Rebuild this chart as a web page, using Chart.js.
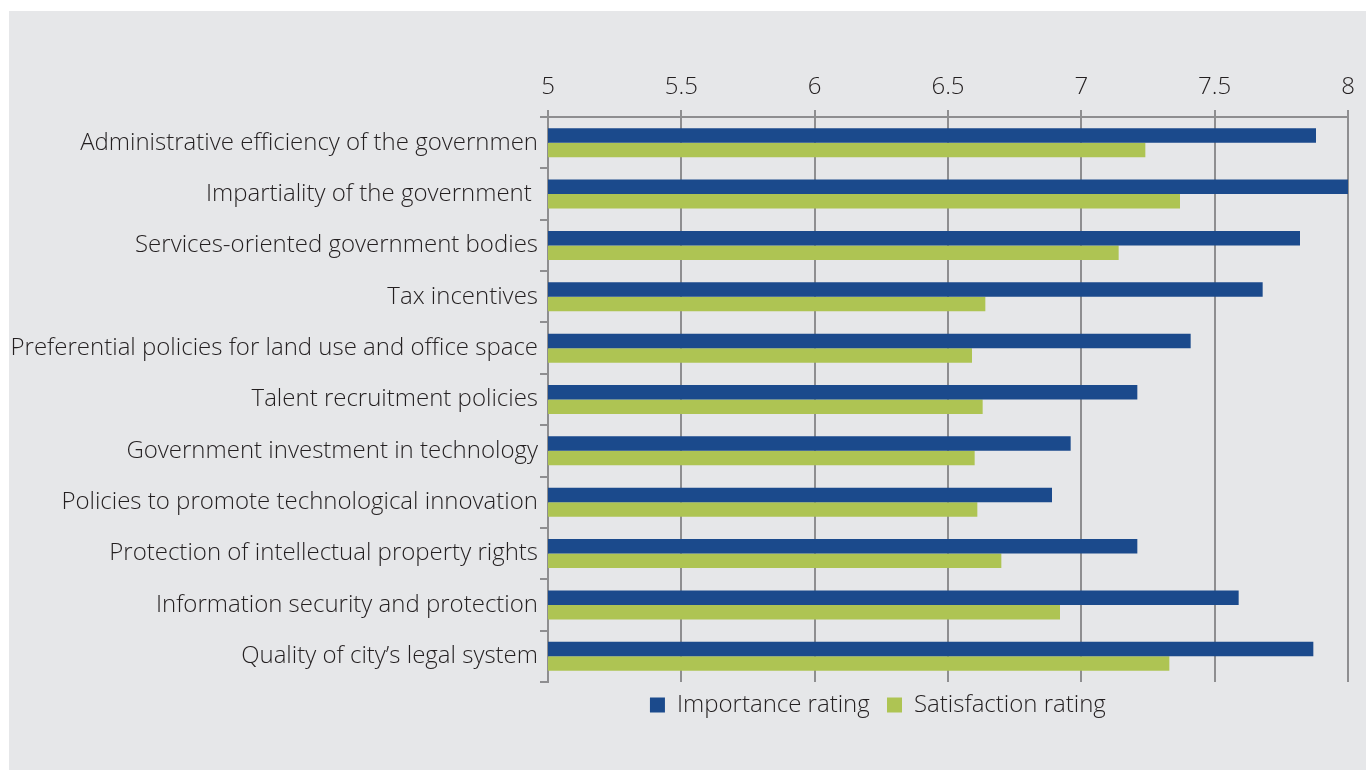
<!DOCTYPE html>
<html>
<head>
<meta charset="utf-8">
<script src="https://cdn.jsdelivr.net/npm/chart.js@4/dist/chart.umd.min.js"></script>
<style>
  html, body { margin: 0; padding: 0; background: #ffffff; }
  #panel { position: absolute; left: 9px; top: 11px; width: 1357px; height: 759px; background: #e6e7e9; }
</style>
</head>
<body>
<div id="panel"><canvas id="myChart" width="1357" height="759"></canvas></div>
<script>
const factors = [
  'Administrative efficiency of the governmen',
  'Impartiality of the government ',
  'Services-oriented government bodies',
  'Tax incentives',
  'Preferential policies for land use and office space',
  'Talent recruitment policies',
  'Government investment in technology',
  'Policies to promote technological innovation',
  'Protection of intellectual property rights',
  'Information security and protection',
  'Quality of city\u2019s legal system'
];
const importance = [7.88, 8.0, 7.82, 7.68, 7.41, 7.21, 6.96, 6.89, 7.21, 7.59, 7.87];
const satisfaction = [7.24, 7.37, 7.14, 6.64, 6.59, 6.63, 6.60, 6.61, 6.70, 6.92, 7.33];

const axisGray = '#8e8e90';
const textColor = '#231f20';
const fontFamily = "'Open Sans', 'Noto Sans', sans-serif";

// legend sits under the bars, a bit left of the plot centre
const legendCentre = {
  id: 'legendCentre',
  afterLayout(chart) {
    const lg = chart.legend;
    lg.left = 872 - 420;
    lg.right = 872 + 420;
    lg.width = 840;
  }
};

const ctx = document.getElementById('myChart');
const myChart = new Chart(ctx, {
  type: 'bar',
  data: {
    labels: factors,
    datasets: [
      {
        label: 'Importance rating',
        data: importance,
        backgroundColor: '#1b4a8c',
        categoryPercentage: 0.565,
        barPercentage: 1.0
      },
      {
        label: 'Satisfaction rating',
        data: satisfaction,
        backgroundColor: '#aec453',
        categoryPercentage: 0.565,
        barPercentage: 1.0
      }
    ]
  },
  plugins: [legendCentre],
  options: {
    indexAxis: 'y',
    responsive: false,
    animation: false,
    devicePixelRatio: 1,
    layout: { padding: { left: 0, right: 18, top: 0, bottom: 43 } },
    plugins: {
      tooltip: { enabled: false },
      legend: {
        position: 'bottom',
        labels: {
          boxWidth: 15,
          boxHeight: 15,
          padding: 11,
          color: textColor,
          font: { family: fontFamily, size: 24, weight: 350 },
          generateLabels: function (chart) {
            const items = Chart.defaults.plugins.legend.labels.generateLabels(chart);
            items.forEach(function (it) { it.text = it.text + ' '; });
            return items;
          }
        }
      }
    },
    scales: {
      x: {
        position: 'top',
        min: 5,
        max: 8,
        ticks: {
          stepSize: 0.5,
          color: textColor,
          padding: 8,
          font: { family: fontFamily, size: 24, weight: 350 },
          callback: function (v) { return String(v); }
        },
        grid: { color: axisGray, lineWidth: 2, tickLength: 7 },
        border: { color: axisGray, width: 2 },
        afterFit: function (scale) { scale.height = 106; }
      },
      y: {
        ticks: {
          color: textColor,
          padding: 2,
          font: { family: fontFamily, size: 24, weight: 350 }
        },
        grid: { drawOnChartArea: false, color: axisGray, lineWidth: 2, tickLength: 8 },
        border: { color: axisGray, width: 2 },
        afterFit: function (scale) { scale.width = 539; }
      }
    }
  }
});
</script>
</body>
</html>
